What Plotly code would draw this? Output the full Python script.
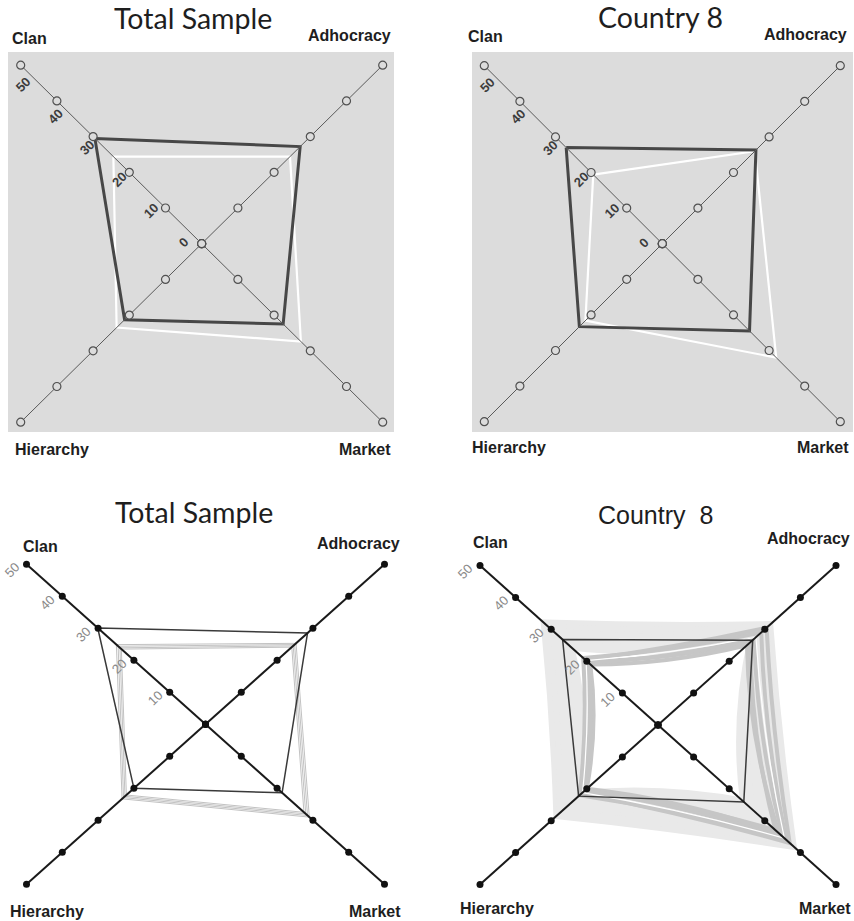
import math
import plotly.graph_objects as go

W, H = 854, 921

# ---------------- data ----------------
categories = ["Clan", "Adhocracy", "Market", "Hierarchy"]
tick_values = [0, 10, 20, 30, 40, 50]
tick_labels = ["0", "10", "20", "30", "40", "50"]
titles = ["Total Sample", "Country 8", "Total Sample", "Country  8"]

# values in order Clan, Adhocracy, Market, Hierarchy
ts_profile_top = [29.5, 27.2, 22.5, 21.3]
ts_white_top = [24.4, 24.4, 27.4, 23.5]
c8_profile_top = [27.0, 26.3, 24.5, 23.3]
c8_white_top = [19.4, 26.0, 32.0, 21.6]

ts_profile_bottom = [30.1, 28.5, 21.4, 20.0]
ts_boot_1 = [24.9, 25.3, 29.0, 23.3]
ts_boot_2 = [24.4, 24.9, 28.5, 22.9]
ts_boot_3 = [23.9, 24.5, 28.0, 22.5]
ts_boot_4 = [23.5, 24.1, 27.5, 22.1]

c8_profile_bottom = [26.8, 26.6, 24.1, 22.3]
c8_light_1 = [31.5, 31.0, 37.5, 28.0]
c8_light_2 = [30.0, 30.0, 36.0, 27.0]
c8_light_3 = [28.5, 29.0, 34.0, 25.5]
c8_light_4 = [27.0, 28.0, 31.0, 24.5]
c8_light_5 = [26.0, 27.0, 27.0, 23.0]
c8_light_6 = [25.0, 26.5, 24.5, 22.0]
c8_light_7 = [29.0, 27.5, 29.0, 26.0]
c8_dark_1 = [20.0, 26.0, 33.0, 21.0]
c8_dark_2 = [19.0, 25.0, 34.0, 20.0]
c8_dark_3 = [21.0, 29.0, 36.0, 22.0]
c8_dark_4 = [20.5, 30.5, 37.0, 21.5]
c8_dark_5 = [19.5, 27.0, 35.0, 20.5]
c8_white_bottom = [20.2, 27.5, 35.5, 21.2]

# ---------------- geometry / style ----------------
dirs = {"Clan": (-1, 1), "Adhocracy": (1, 1), "Market": (1, -1), "Hierarchy": (-1, -1)}

panels = [
    dict(cx=201.7, cy=243.7, sx=3.62, sy=3.57, box=(8, 394, 52, 432)),
    dict(cx=662.3, cy=243.7, sx=3.56, sy=3.56, box=(472, 853, 52, 432)),
    dict(cx=205.5, cy=724.3, sx=3.58, sy=3.20, box=(10, 400, 545, 900)),
    dict(cx=658.0, cy=725.0, sx=3.56, sy=3.19, box=(445, 850, 545, 900)),
]
light_bow = [0.97, 0.95, 0.93, 0.90, 0.86, 0.84, 0.90]
dark_bow = [0.88, 0.86, 0.92, 0.95, 0.90]

fig = go.Figure()
layout = dict(width=W, height=H, margin=dict(l=0, r=0, t=0, b=0),
              paper_bgcolor="white", plot_bgcolor="white", showlegend=False)
shapes = []
annotations = []


def poly(vals, close=True):
    xs = [dirs[c][0] * v for c, v in zip(categories, vals)]
    ys = [dirs[c][1] * v for c, v in zip(categories, vals)]
    if close:
        xs.append(xs[0]); ys.append(ys[0])
    return xs, ys


def curve_path(vals, k=0.86):
    xs, ys = poly(vals, close=True)
    d = "M %.3f,%.3f" % (xs[0], ys[0])
    for i in range(4):
        mx = (xs[i] + xs[i + 1]) / 2 * k
        my = (ys[i] + ys[i + 1]) / 2 * k
        d += " Q %.3f,%.3f %.3f,%.3f" % (mx, my, xs[i + 1], ys[i + 1])
    return d + " Z"


for i, p in enumerate(panels):
    n = "" if i == 0 else str(i + 1)
    xa, ya = "x" + n, "y" + n
    x0, x1, y0, y1 = p["box"]
    layout["xaxis" + n] = dict(domain=[x0 / W, x1 / W],
                               range=[(x0 - p["cx"]) / p["sx"], (x1 - p["cx"]) / p["sx"]],
                               visible=False, fixedrange=True, anchor=ya)
    layout["yaxis" + n] = dict(domain=[1 - y1 / H, 1 - y0 / H],
                               range=[(p["cy"] - y1) / p["sy"], (p["cy"] - y0) / p["sy"]],
                               visible=False, fixedrange=True, anchor=xa)
    p["xa"], p["ya"] = xa, ya

# gray backgrounds for the top panels
for i in (0, 1):
    p = panels[i]
    shapes.append(dict(type="rect", xref=p["xa"] + " domain", yref=p["ya"] + " domain",
                       x0=0, x1=1, y0=0, y1=1, fillcolor="#dcdcdc", line=dict(width=0),
                       layer="below"))


def add_line(p, vals, color, width):
    xs, ys = poly(vals)
    fig.add_trace(go.Scatter(x=xs, y=ys, xaxis=p["xa"], yaxis=p["ya"], mode="lines",
                             line=dict(color=color, width=width), hoverinfo="skip",
                             cliponaxis=False))


def add_axes(p, top):
    for c in categories:
        xs = [dirs[c][0] * v for v in tick_values]
        ys = [dirs[c][1] * v for v in tick_values]
        if top:
            fig.add_trace(go.Scatter(x=xs, y=ys, xaxis=p["xa"], yaxis=p["ya"], mode="lines+markers",
                                     line=dict(color="#5a5a5a", width=1),
                                     marker=dict(size=8, color="#dcdcdc",
                                                 line=dict(color="#505050", width=1.2)),
                                     hoverinfo="skip", cliponaxis=False))
        else:
            fig.add_trace(go.Scatter(x=xs, y=ys, xaxis=p["xa"], yaxis=p["ya"], mode="lines+markers",
                                     line=dict(color="#1a1a1a", width=2),
                                     marker=dict(size=7, color="#111111"),
                                     hoverinfo="skip", cliponaxis=False))


# ---- top-left
p = panels[0]
add_line(p, ts_white_top, "white", 2.2)
add_line(p, ts_profile_top, "#474747", 3)
add_axes(p, True)
# ---- top-right
p = panels[1]
add_line(p, c8_white_top, "white", 2.2)
add_line(p, c8_profile_top, "#474747", 3)
add_axes(p, True)
# ---- bottom-left
p = panels[2]
for b in (ts_boot_1, ts_boot_2, ts_boot_3, ts_boot_4):
    add_line(p, b, "#c2c2c2", 1.0)
add_line(p, ts_profile_bottom, "#3a3a3a", 1.5)
add_axes(p, False)
# ---- bottom-right
p = panels[3]
lights = (c8_light_1, c8_light_2, c8_light_3, c8_light_4, c8_light_5, c8_light_6, c8_light_7)
for b, k in zip(lights, light_bow):
    shapes.append(dict(type="path", xref=p["xa"], yref=p["ya"], path=curve_path(b, k),
                       line=dict(color="#e9e9e9", width=10), layer="below"))
darks = (c8_dark_1, c8_dark_2, c8_dark_3, c8_dark_4, c8_dark_5)
for b, k in zip(darks, dark_bow):
    shapes.append(dict(type="path", xref=p["xa"], yref=p["ya"], path=curve_path(b, k),
                       line=dict(color="#c6c6c6", width=4), layer="below"))
shapes.append(dict(type="path", xref=p["xa"], yref=p["ya"], path=curve_path(c8_white_bottom, 0.93),
                   line=dict(color="white", width=1.2), layer="below"))
add_line(p, c8_profile_bottom, "#3a3a3a", 1.5)
add_axes(p, False)

# ---- tick labels
r2 = math.sqrt(2)
for i, p in enumerate(panels):
    for v, t in zip(tick_values, tick_labels):
        if i < 2:
            along = 14 - 0.59 * v
            perp = 12
            dx = -along / r2 - perp / r2
            dy = -along / r2 + perp / r2
            font = dict(family="Liberation Sans", size=13, color="#3c3c3c", weight=700)
        else:
            if v == 0:
                continue
            dx, dy = -15, 6
            font = dict(family="Liberation Sans", size=13, color="#8a8a8a")
        annotations.append(dict(x=-v, y=v, xref=p["xa"], yref=p["ya"], text=t, showarrow=False,
                                textangle=-45, xshift=dx, yshift=-dy, font=font))

# ---- category labels (pixel positions)
cat_pos = [
    [("Clan", 29.5, 38, "center"), ("Adhocracy", 393, 35, "right"),
     ("Hierarchy", 13, 449, "left"), ("Market", 393, 449, "right")],
    [("Clan", 485.5, 36, "center"), ("Adhocracy", 849, 34, "right"),
     ("Hierarchy", 470, 447, "left"), ("Market", 851, 447, "right")],
    [("Clan", 20.7, 546, "left"), ("Adhocracy", 401.7, 543, "right"),
     ("Hierarchy", 8, 911, "left"), ("Market", 403, 911, "right")],
    [("Clan", 470.7, 542, "left"), ("Adhocracy", 851.7, 538, "right"),
     ("Hierarchy", 458, 908, "left"), ("Market", 852.7, 908, "right")],
]
for plist in cat_pos:
    for name, px, py, anc in plist:
        annotations.append(dict(x=px / W, y=1 - py / H, xref="paper", yref="paper", text=name,
                                showarrow=False, xanchor=anc, yanchor="middle",
                                font=dict(family="Liberation Sans", size=16, color="#1e1e1e",
                                          weight=700)))

title_pos = [(192.5, 18, "Lato"), (660.8, 17, "Lato"), (194, 512, "Lato"),
             (655, 515, "Liberation Sans")]
for (px, py, fam), t in zip(title_pos, titles):
    annotations.append(dict(x=px / W, y=1 - py / H, xref="paper", yref="paper", text=t,
                            showarrow=False, xanchor="center", yanchor="middle",
                            font=dict(family=fam, size=28.5 if fam == "Lato" else 25,
                                      color="#1e1e1e")))

layout["shapes"] = shapes
layout["annotations"] = annotations
fig.update_layout(**layout)
fig.write_html("out.html")
